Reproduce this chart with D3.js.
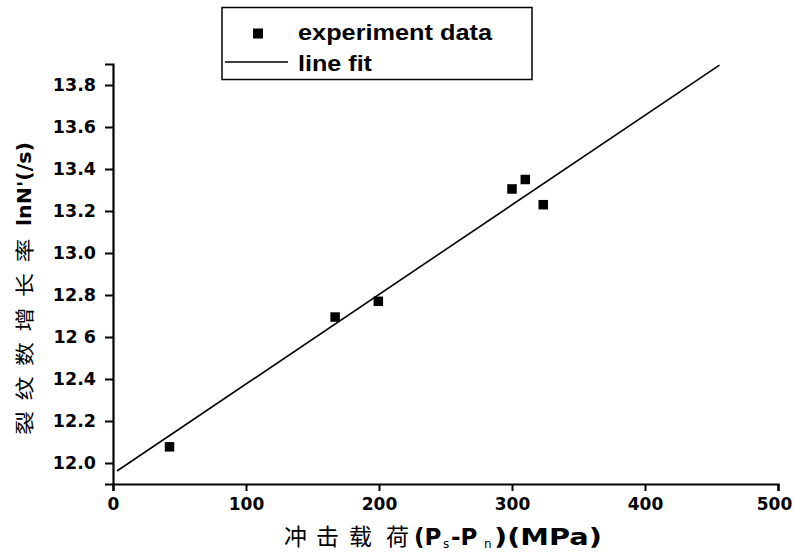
<!DOCTYPE html>
<html><head><meta charset="utf-8">
<script src="https://cdn.jsdelivr.net/npm/d3@7"></script>
<style>body{margin:0;background:#fff}</style>
</head><body>
<svg id="c" width="795" height="554"></svg>
<script>
const expX = [42.5, 167, 199.5, 300, 310, 323.5];
const expY = [12.077, 12.695, 12.77, 13.305, 13.35, 13.23];
const fitX = [3, 456];
const fitY = [11.962, 13.895];
const xTicks = [0, 100, 200, 300, 400, 500];
const yTicks = [12.0, 12.2, 12.4, 12.6, 12.8, 13.0, 13.2, 13.4, 13.6, 13.8];
const yTickLabels = ["12.0","12.2","12.4","12 6","12.8","13.0","13.2","13.4","13.6","13.8"];
const legendLabels = ["experiment data", "line fit"];
const xTitleCJK = ["冲", "击", "载", "荷"];
const yTitleCJK = ["裂", "纹", "数", "增", "长", "率"];

const svg = d3.select("#c");
const x = d3.scaleLinear().domain([0, 500]).range([113, 778]);
const y = d3.scaleLinear().domain([11.9, 13.9]).range([484, 64]);
const latin = "'DejaVu Sans', sans-serif";
const arial = "'Liberation Sans', Arial, sans-serif";
const cjk = "'Noto Sans CJK SC', sans-serif";

// x axis
const gx = svg.append("g").attr("transform", "translate(0,484)");
gx.call(d3.axisBottom(x).tickValues(d3.range(0, 501, 50)).tickSize(4).tickFormat(""));
gx.call(d3.axisBottom(x).tickValues(xTicks).tickSize(7).tickPadding(7).tickFormat(d3.format("d")));
gx.selectAll("path.domain").attr("stroke-width", 2.2);
gx.selectAll("line").attr("stroke-width", 2);
gx.selectAll("text").attr("font-family", latin).attr("font-weight", "bold").attr("font-size", 17).attr("fill", "#000")
  .attr("dx", d => d === 500 ? -4 : 0);

// y axis
const gy = svg.append("g").attr("transform", "translate(113,0)");
gy.call(d3.axisLeft(y).tickValues(d3.range(0, 20).map(i => 11.9 + i * 0.1)).tickSize(4).tickFormat(""));
gy.call(d3.axisLeft(y).tickValues(yTicks).tickSize(8).tickPadding(9).tickFormat((d, i) => yTickLabels[i]));
gy.selectAll("path.domain").attr("stroke-width", 2.2);
gy.selectAll("line").attr("stroke-width", 2);
gy.selectAll("text").attr("font-family", latin).attr("font-weight", "bold").attr("font-size", 17.5).attr("fill", "#000");

// fit line
svg.append("line")
  .attr("x1", x(fitX[0])).attr("y1", y(fitY[0]))
  .attr("x2", x(fitX[1])).attr("y2", y(fitY[1]))
  .attr("stroke", "#000").attr("stroke-width", 1.6);

// points
const s = 9.5;
svg.selectAll("rect.pt").data(expX.map((v, i) => [v, expY[i]])).enter()
  .append("rect").attr("class", "pt")
  .attr("x", d => x(d[0]) - s / 2).attr("y", d => y(d[1]) - s / 2)
  .attr("width", s).attr("height", s).attr("fill", "#000");

// legend
const lg = svg.append("g");
lg.append("rect").attr("x", 222).attr("y", 7.5).attr("width", 310).attr("height", 72)
  .attr("fill", "none").attr("stroke", "#000").attr("stroke-width", 1.5);
lg.append("rect").attr("x", 253).attr("y", 28.5).attr("width", 10).attr("height", 10).attr("fill", "#000");
lg.append("line").attr("x1", 225).attr("x2", 288).attr("y1", 62).attr("y2", 62).attr("stroke", "#000").attr("stroke-width", 1.3);
lg.append("text").attr("x", 298).attr("y", 39.5).text(legendLabels[0])
  .attr("font-family", arial).attr("font-weight", "bold").attr("font-size", 22)
  .attr("textLength", 194).attr("lengthAdjust", "spacingAndGlyphs");
lg.append("text").attr("x", 298).attr("y", 70.5).text(legendLabels[1])
  .attr("font-family", arial).attr("font-weight", "bold").attr("font-size", 22)
  .attr("textLength", 74).attr("lengthAdjust", "spacingAndGlyphs");

// x title
const xt = svg.append("g");
xt.append("text").attr("y", 545).attr("font-family", cjk).attr("font-size", 23).attr("fill", "#000")
  .selectAll("tspan").data(xTitleCJK).enter().append("tspan")
  .attr("x", (d, i) => [284, 316, 349, 386][i]).text(d => d);
const xl = xt.append("text").attr("y", 545).attr("font-family", latin).attr("font-weight", "bold")
  .attr("font-size", 23).attr("fill", "#000");
xl.append("tspan").attr("x", 414).text("(P");
xl.append("tspan").attr("x", 443).attr("dy", 3).attr("font-size", 12).attr("font-weight", "normal").text("s");
xl.append("tspan").attr("x", 451).attr("dy", -3).text("-P");
xl.append("tspan").attr("x", 484).attr("dy", 3).attr("font-size", 12).attr("font-weight", "normal").text("n");
xl.append("tspan").attr("x", 494).attr("dy", -3).attr("textLength", 108).attr("lengthAdjust", "spacingAndGlyphs").text(")(MPa)");

// y title (rotated)
const yt = svg.append("g").attr("transform", "translate(32,0) rotate(-90)");
yt.append("text").attr("font-family", cjk).attr("font-size", 24).attr("fill", "#000")
  .attr("transform", "scale(1,0.8)")
  .selectAll("tspan").data(yTitleCJK).enter().append("tspan")
  .attr("x", (d, i) => -435 + i * 34.5).attr("y", 0).text(d => d);
yt.append("text").attr("x", -226).attr("y", -1).attr("font-family", latin).attr("font-weight", "bold")
  .attr("font-size", 19).attr("fill", "#000").attr("textLength", 84).attr("lengthAdjust", "spacingAndGlyphs")
  .text("lnN'(/s)");
</script>
</body></html>
